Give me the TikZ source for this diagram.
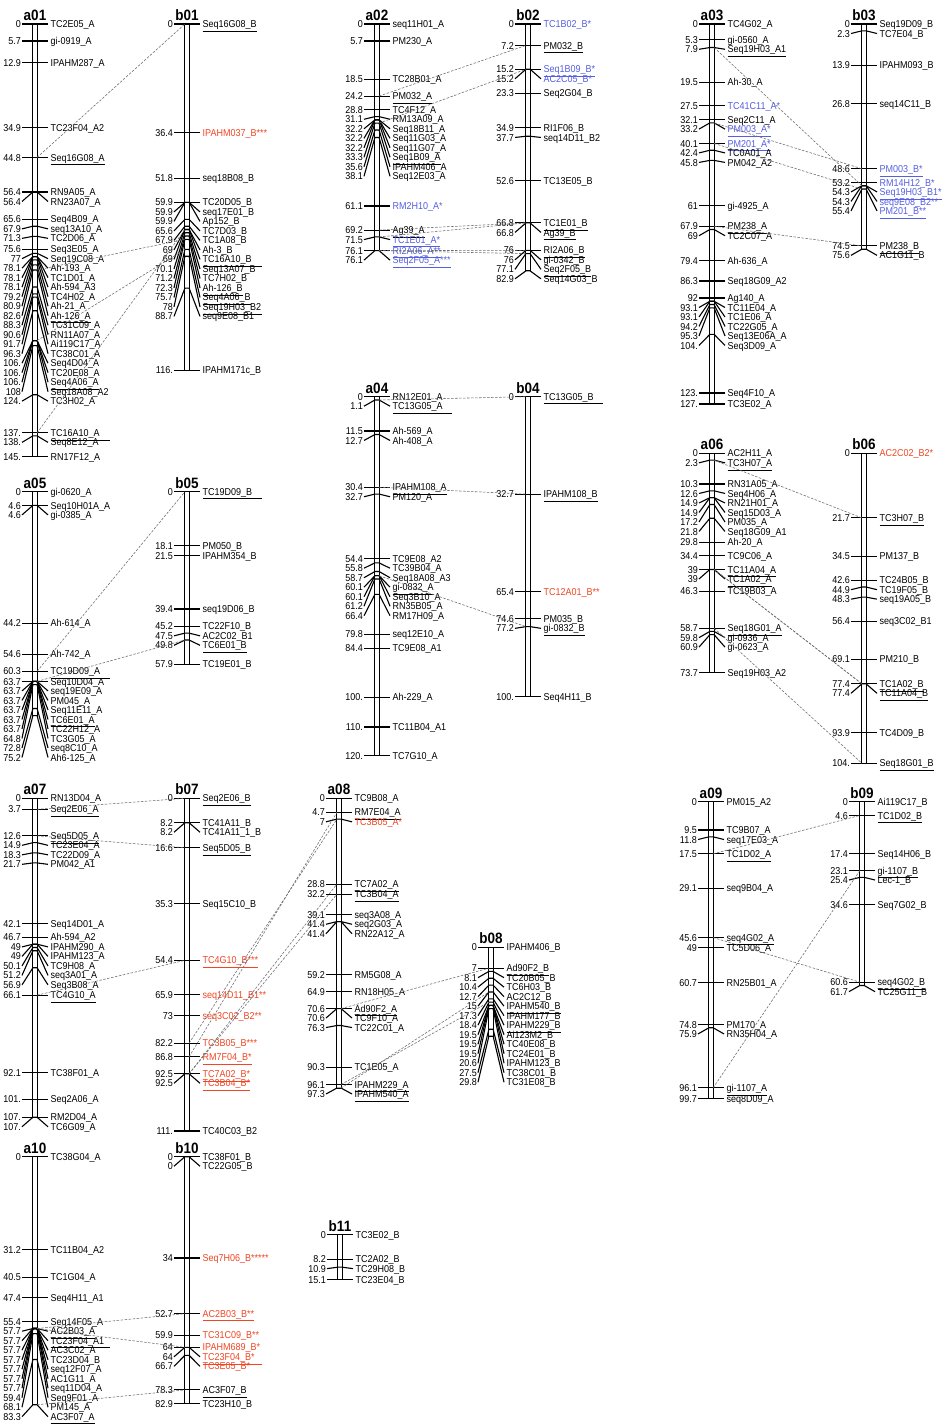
\documentclass[tikz,border=0pt]{standalone}
\usepackage{fontspec}
\setmainfont{Liberation Sans}[FakeStretch=0.9]
\definecolor{mkred}{RGB}{240,70,35}
\definecolor{mkblue}{RGB}{85,95,225}
\definecolor{conngray}{RGB}{105,105,105}
\def\cmsc{2.978}
\expandafter\def\csname mksn\endcsname#1{#1}
\expandafter\def\csname mksu\endcsname#1{\underline{#1}}
\expandafter\def\csname mksU\endcsname#1{\underline{\makebox[59pt][l]{#1}}}
\expandafter\def\csname mksr\endcsname#1{\textcolor{mkred}{#1}}
\expandafter\def\csname mksru\endcsname#1{\textcolor{mkred}{\underline{#1}}}
\expandafter\def\csname mksrU\endcsname#1{\textcolor{mkred}{\underline{\makebox[59pt][l]{#1}}}}
\expandafter\def\csname mksb\endcsname#1{\textcolor{mkblue}{#1}}
\expandafter\def\csname mksbu\endcsname#1{\textcolor{mkblue}{\underline{#1}}}
\newcommand\mkname[2]{\csname mks#1\endcsname{#2}}
\tikzset{
  tickline/.style={line width=1.1pt, black},
  barline/.style={line width=1.1pt, black, fill=white},
  conn/.style={conngray, line width=0.55pt, dash pattern=on 2.5pt off 1.5pt},
  numlab/.style={anchor=base east, inner sep=0pt, font=\fontsize{10}{10}\selectfont},
  namelab/.style={anchor=base west, inner sep=0pt, font=\fontsize{10}{10}\selectfont},
  chromtitle/.style={anchor=base, inner sep=0pt, font=\fontsize{15}{15}\selectfont\bfseries},
}
% #1 name, #2 centre x, #3 y of 0 cM, #4 length cM, #5 markers pos/disp/name/style/key
\newcommand\chromo[5]{%
  \draw[barline] (#2-2.1,#3) rectangle (#2+2.1,#3+#4*\cmsc);
  \node[chromtitle] (t#1) at (#2,#3-3.5) {#1};
  \gdef\mlasty{-1000}%
  \foreach \mpos/\mdisp/\mname/\mst/\mkey in {#5} {
    \pgfmathsetmacro\may{#3+\mpos*\cmsc}
    \pgfmathsetmacro\mly{max(\may,\mlasty+9.5)}
    \xdef\mlasty{\mly}
    \draw[tickline] (#2-13,\mly) -- (#2-2.1,\may) -- (#2+2.1,\may) -- (#2+13,\mly);
    \node[numlab] (#1-\mkey-num) at (#2-14,\mly+3.6) {\mdisp};
    \node[namelab] (#1-\mkey-txt) at (#2+15.5,\mly+3.6) {\mkname{\mst}{\mname}};
    \coordinate (#1-\mkey-L) at (#2-2.1,\may);
    \coordinate (#1-\mkey-R) at (#2+2.1,\may);
  }
}
\begin{document}
\begin{tikzpicture}[x=1pt,y=-1pt]
\fill[white] (0,0) rectangle (944,1425);
\useasboundingbox (0,0) rectangle (944,1425);

\chromo{a01}{35}{24}{145.3}{0/0/TC2E05\_A/n/x,
5.7/5.7/gi-0919\_A/n/x,
12.9/12.9/IPAHM287\_A/n/x,
34.9/34.9/TC23F04\_A2/n/x,
44.8/44.8/Seq16G08\_A/u/s16,
56.4/56.4/RN9A05\_A/n/x,
56.4/56.4/RN23A07\_A/n/x,
65.6/65.6/Seq4B09\_A/n/x,
67.9/67.9/seq13A10\_A/n/x,
71.3/71.3/TC2D06\_A/n/x,
75.6/75.6/Seq3E05\_A/n/x,
77/77/Seq19C08\_A/n/x,
78.1/78.1/Ah-193\_A/n/x,
78.1/78.1/TC1D01\_A/n/x,
78.1/78.1/Ah-594\_A3/n/x,
79.2/79.2/TC4H02\_A/n/x,
80.9/80.9/Ah-21\_A/n/x,
82.6/82.6/Ah-126\_A/u/ah126,
88.3/88.3/TC31C09\_A/n/x,
90.6/90.6/RN11A07\_A/n/x,
91.7/91.7/Ai119C17\_A/n/x,
96.3/96.3/TC38C01\_A/n/x,
106.3/106./Seq4D04\_A/n/x,
106.3/106./TC20E08\_A/n/x,
106.3/106./Seq4A06\_A/u/s4a06,
108/108/Seq18A08\_A2/n/x,
124.5/124./TC3H02\_A/n/x,
137.3/137./TC16A10\_A/U/tc16,
138.3/138./Seq8E12\_A/n/x,
145.3/145./RN17F12\_A/n/x}

\chromo{b01}{187}{24}{116.2}{0/0/Seq16G08\_B/u/s16,
36.4/36.4/IPAHM037\_B***/r/x,
51.8/51.8/seq18B08\_B/n/x,
59.9/59.9/TC20D05\_B/n/x,
59.9/59.9/seq17E01\_B/n/x,
59.9/59.9/Ap152\_B/n/x,
65.6/65.6/TC7D03\_B/n/x,
67.9/67.9/TC1A08\_B/n/x,
69/69/Ah-3\_B/n/x,
69/69/TC16A10\_B/U/tc16,
70.1/70.1/Seq13A07\_B/n/x,
71.2/71.2/TC7H02\_B/n/x,
72.3/72.3/Ah-126\_B/u/ah126,
75.7/75.7/Seq4A06\_B/u/s4a06,
78/78/Seq19H03\_B2/U/x,
88.7/88.7/seq9E08\_B1/n/x,
116.2/116./IPAHM171c\_B/n/x}

\chromo{a02}{377}{24}{76.1}{0/0/seq11H01\_A/n/x,
5.7/5.7/PM230\_A/n/x,
18.5/18.5/TC28B01\_A/n/x,
24.2/24.2/PM032\_A/u/pm032,
28.8/28.8/TC4F12\_A/n/x,
31.1/31.1/RM13A09\_A/n/x,
32.2/32.2/Seq18B11\_A/n/x,
32.2/32.2/Seq11G03\_A/n/x,
32.2/32.2/Seq11G07\_A/n/x,
33.3/33.3/Seq1B09\_A/u/s1b09,
35.6/35.6/IPAHM406\_A/n/x,
38.1/38.1/Seq12E03\_A/n/x,
61.1/61.1/RM2H10\_A*/b/x,
69.2/69.2/Ag39\_A/u/ag39,
71.5/71.5/TC1E01\_A*/bu/tc1e01,
76.1/76.1/RI2A06\_A**/bu/ri2a06,
76.1/76.1/Seq2F05\_A***/bu/s2f05}

\chromo{b02}{528}{24}{82.9}{0/0/TC1B02\_B*/b/x,
7.2/7.2/PM032\_B/u/pm032,
15.2/15.2/Seq1B09\_B*/bu/s1b09,
15.2/15.2/AC2C05\_B*/b/x,
23.3/23.3/Seq2G04\_B/n/x,
34.9/34.9/RI1F06\_B/n/x,
37.7/37.7/seq14D11\_B2/n/x,
52.6/52.6/TC13E05\_B/n/x,
66.8/66.8/TC1E01\_B/u/tc1e01,
66.8/66.8/Ag39\_B/u/ag39,
76/76/RI2A06\_B/u/ri2a06,
76/76/gi-0342\_B/n/x,
77.1/77.1/Seq2F05\_B/u/s2f05,
82.9/82.9/Seq14G03\_B/n/x}

\chromo{a03}{712}{24}{127.6}{0/0/TC4G02\_A/n/x,
5.3/5.3/gi-0560\_A/n/x,
7.9/7.9/Seq19H03\_A1/u/s19h03,
19.5/19.5/Ah-30\_A/n/x,
27.5/27.5/TC41C11\_A*/b/x,
32.1/32.1/Seq2C11\_A/n/x,
33.2/33.2/PM003\_A*/bu/pm003,
40.1/40.1/PM201\_A*/bu/pm201,
42.4/42.4/TC0A01\_A/n/x,
45.8/45.8/PM042\_A2/n/x,
61/61/gi-4925\_A/n/x,
67.9/67.9/PM238\_A/u/pm238,
69/69/TC2C07\_A/n/x,
79.4/79.4/Ah-636\_A/n/x,
86.3/86.3/Seq18G09\_A2/n/x,
92/92/Ag140\_A/n/x,
93.1/93.1/TC11E04\_A/n/x,
93.1/93.1/TC1E06\_A/n/x,
94.2/94.2/TC22G05\_A/n/x,
95.3/95.3/Seq13E06A\_A/n/x,
104.2/104./Seq3D09\_A/n/x,
123.9/123./Seq4F10\_A/n/x,
127.6/127./TC3E02\_A/n/x}

\chromo{b03}{864}{24}{75.6}{0/0/Seq19D09\_B/n/x,
2.3/2.3/TC7E04\_B/n/x,
13.9/13.9/IPAHM093\_B/n/x,
26.8/26.8/seq14C11\_B/n/x,
48.6/48.6/PM003\_B*/bu/pm003,
53.2/53.2/RM14H12\_B*/b/x,
54.3/54.3/Seq19H03\_B1*/bu/s19h03,
54.3/54.3/seq9E08\_B2**/b/x,
55.4/55.4/PM201\_B**/bu/pm201,
74.5/74.5/PM238\_B/u/pm238,
75.6/75.6/AC1G11\_B/n/x}

\chromo{a04}{377}{396.7}{120.6}{0/0/RN12E01\_A/n/x,
1.1/1.1/TC13G05\_A/U/tc13,
11.5/11.5/Ah-569\_A/n/x,
12.7/12.7/Ah-408\_A/n/x,
30.4/30.4/IPAHM108\_A/u/ip108,
32.7/32.7/PM120\_A/n/x,
54.4/54.4/TC9E08\_A2/n/x,
55.8/55.8/TC39B04\_A/n/x,
58.7/58.7/Seq18A08\_A3/n/x,
60.1/60.1/gi-0832\_A/u/gi0832,
60.1/60.1/Seq3B10\_A/n/x,
61.2/61.2/RN35B05\_A/n/x,
66.4/66.4/RM17H09\_A/n/x,
79.8/79.8/seq12E10\_A/n/x,
84.4/84.4/TC9E08\_A1/n/x,
100.9/100./Ah-229\_A/n/x,
110.9/110./TC11B04\_A1/n/x,
120.6/120./TC7G10\_A/n/x}

\chromo{b04}{528}{396.7}{100.7}{0/0/TC13G05\_B/U/tc13,
32.7/32.7/IPAHM108\_B/u/ip108,
65.4/65.4/TC12A01\_B**/r/x,
74.6/74.6/PM035\_B/n/x,
77.2/77.2/gi-0832\_B/u/gi0832,
100.7/100./Seq4H11\_B/n/x}

\chromo{a05}{35}{491.7}{75.2}{0/0/gi-0620\_A/n/x,
4.6/4.6/Seq10H01A\_A/n/x,
4.6/4.6/gi-0385\_A/n/x,
44.2/44.2/Ah-614\_A/n/x,
54.6/54.6/Ah-742\_A/n/x,
60.3/60.3/TC19D09\_A/U/tc19,
63.7/63.7/Seq10D04\_A/n/x,
63.7/63.7/seq19E09\_A/n/x,
63.7/63.7/PM045\_A/n/x,
63.7/63.7/Seq11E11\_A/n/x,
63.7/63.7/TC6E01\_A/u/tc6e01,
63.7/63.7/TC22H12\_A/n/x,
64.8/64.8/TC3G05\_A/n/x,
72.8/72.8/seq8C10\_A/n/x,
75.2/75.2/Ah6-125\_A/n/x}

\chromo{b05}{187}{491.7}{57.9}{0/0/TC19D09\_B/U/tc19,
18.1/18.1/PM050\_B/n/x,
21.5/21.5/IPAHM354\_B/n/x,
39.4/39.4/seq19D06\_B/n/x,
45.2/45.2/TC22F10\_B/n/x,
47.5/47.5/AC2C02\_B1/n/x,
49.8/49.8/TC6E01\_B/u/tc6e01,
57.9/57.9/TC19E01\_B/n/x}

\chromo{a06}{712}{453.3}{73.7}{0/0/AC2H11\_A/n/x,
2.3/2.3/TC3H07\_A/u/tc3h07,
10.3/10.3/RN31A05\_A/n/x,
12.6/12.6/Seq4H06\_A/n/x,
14.9/14.9/RN21H01\_A/n/x,
14.9/14.9/Seq15D03\_A/n/x,
17.2/17.2/PM035\_A/n/x,
21.8/21.8/Seq18G09\_A1/n/x,
29.8/29.8/Ah-20\_A/n/x,
34.4/34.4/TC9C06\_A/n/x,
39/39/TC11A04\_A/u/tc11a04,
39/39/TC1A02\_A/u/tc1a02,
46.3/46.3/TC19B03\_A/n/x,
58.7/58.7/Seq18G01\_A/u/s18g01,
59.8/59.8/gi-0936\_A/n/x,
60.9/60.9/gi-0623\_A/n/x,
73.7/73.7/Seq19H03\_A2/n/x}

\chromo{b06}{864}{453.3}{104.1}{0/0/AC2C02\_B2*/r/x,
21.7/21.7/TC3H07\_B/u/tc3h07,
34.5/34.5/PM137\_B/n/x,
42.6/42.6/TC24B05\_B/n/x,
44.9/44.9/TC19F05\_B/n/x,
48.3/48.3/seq19A05\_B/n/x,
56.4/56.4/seq3C02\_B1/n/x,
69.1/69.1/PM210\_B/n/x,
77.4/77.4/TC1A02\_B/u/tc1a02,
77.4/77.4/TC11A04\_B/u/tc11a04,
93.9/93.9/TC4D09\_B/n/x,
104.1/104./Seq18G01\_B/u/s18g01}

\chromo{a07}{35}{798.3}{107.1}{0/0/RN13D04\_A/n/x,
3.7/3.7/Seq2E06\_A/u/s2e06,
12.6/12.6/Seq5D05\_A/u/s5d05,
14.9/14.9/TC23E04\_A/n/x,
18.3/18.3/TC22D09\_A/n/x,
21.7/21.7/PM042\_A1/n/x,
42.1/42.1/Seq14D01\_A/n/x,
46.7/46.7/Ah-594\_A2/n/x,
49/49/IPAHM290\_A/n/x,
49/49/IPAHM123\_A/n/x,
50.1/50.1/TC9H08\_A/n/x,
51.2/51.2/seq3A01\_A/n/x,
56.9/56.9/Seq3B08\_A/n/x,
66.1/66.1/TC4G10\_A/u/tc4g10,
92.1/92.1/TC38F01\_A/n/x,
101/101./Seq2A06\_A/n/x,
107.1/107./RM2D04\_A/n/x,
107.1/107./TC6G09\_A/n/x}

\chromo{b07}{187}{798.3}{111.7}{0/0/Seq2E06\_B/u/s2e06,
8.2/8.2/TC41A11\_B/n/x,
8.2/8.2/TC41A11\_1\_B/n/x,
16.6/16.6/Seq5D05\_B/u/s5d05,
35.3/35.3/Seq15C10\_B/n/x,
54.4/54.4/TC4G10\_B***/ru/tc4g10,
65.9/65.9/seq14D11\_B1**/r/x,
73/73/seq3C02\_B2**/r/x,
82.2/82.2/TC3B05\_B***/r/tc3b05,
86.8/86.8/RM7F04\_B*/ru/rm7,
92.5/92.5/TC7A02\_B*/ru/tc7a02,
92.5/92.5/TC3B04\_B*/ru/tc3b04,
111.7/111./TC40C03\_B2/n/x}

\chromo{a08}{339}{798.3}{97.3}{0/0/TC9B08\_A/n/x,
4.7/4.7/RM7E04\_A/u/rm7,
7/7/TC3B05\_A*/r/tc3b05,
28.8/28.8/TC7A02\_A/u/tc7a02,
32.2/32.2/TC3B04\_A/u/tc3b04,
39.1/39.1/seq3A08\_A/n/x,
41.4/41.4/seq2G03\_A/n/x,
41.4/41.4/RN22A12\_A/n/x,
59.2/59.2/RM5G08\_A/n/x,
64.9/64.9/RN18H05\_A/n/x,
70.6/70.6/Ad90F2\_A/u/ad90,
70.6/70.6/TC9F10\_A/n/x,
76.3/76.3/TC22C01\_A/n/x,
90.3/90.3/TC1E05\_A/n/x,
96.1/96.1/IPAHM229\_A/u/ip229,
97.3/97.3/IPAHM540\_A/u/ip540}

\chromo{b08}{491}{947.3}{29.8}{0/0/IPAHM406\_B/n/x,
7/7/Ad90F2\_B/u/ad90,
8.1/8.1/TC20B05\_B/n/x,
10.4/10.4/TC6H03\_B/n/x,
12.7/12.7/AC2C12\_B/n/x,
15/15/IPAHM540\_B/u/ip540,
17.3/17.3/IPAHM177\_B/n/x,
18.4/18.4/IPAHM229\_B/u/ip229,
19.5/19.5/Ai123M2\_B/n/x,
19.5/19.5/TC40E08\_B/n/x,
19.5/19.5/TC24E01\_B/n/x,
20.6/20.6/IPAHM123\_B/n/x,
27.5/27.5/TC38C01\_B/n/x,
29.8/29.8/TC31E08\_B/n/x}

\chromo{a09}{711}{801.7}{99.7}{0/0/PM015\_A2/n/x,
9.5/9.5/TC9B07\_A/n/x,
11.8/11.8/seq17E03\_A/n/x,
17.5/17.5/TC1D02\_A/u/tc1d02,
29.1/29.1/seq9B04\_A/n/x,
45.6/45.6/seq4G02\_A/u/s4g02,
49/49/TC5D06\_A/n/x,
60.7/60.7/RN25B01\_A/n/x,
74.8/74.8/PM170\_A/n/x,
75.9/75.9/RN35H04\_A/n/x,
96.1/96.1/gi-1107\_A/u/gi1107,
99.7/99.7/seq8D09\_A/n/x}

\chromo{b09}{862}{801.7}{61.7}{0/0/Ai119C17\_B/n/x,
4.6/4.6/TC1D02\_B/u/tc1d02,
17.4/17.4/Seq14H06\_B/n/x,
23.1/23.1/gi-1107\_B/u/gi1107,
25.4/25.4/Lec-1\_B/n/x,
34.6/34.6/Seq7G02\_B/n/x,
60.6/60.6/seq4G02\_B/u/s4g02,
61.7/61.7/TC25G11\_B/n/x}

\chromo{a10}{35}{1156.7}{83.3}{0/0/TC38G04\_A/n/x,
31.2/31.2/TC11B04\_A2/n/x,
40.5/40.5/TC1G04\_A/n/x,
47.4/47.4/Seq4H11\_A1/n/x,
55.4/55.4/Seq14F05\_A/n/x,
57.7/57.7/AC2B03\_A/u/ac2b03,
57.7/57.7/TC23F04\_A1/U/tc23f04,
57.7/57.7/AC3C02\_A/n/x,
57.7/57.7/TC23D04\_B/n/x,
57.7/57.7/seq12F07\_A/n/x,
57.7/57.7/AC1G11\_A/n/x,
57.7/57.7/seq11D04\_A/n/x,
59.4/59.4/Seq9F01\_A/n/x,
68.1/68.1/PM145\_A/n/x,
83.3/83.3/AC3F07\_A/u/ac3f07}

\chromo{b10}{187}{1156.7}{82.9}{0/0/TC38F01\_B/n/x,
0/0/TC22G05\_B/n/x,
34/34/Seq7H06\_B*****/r/x,
52.7/52.7/AC2B03\_B**/ru/ac2b03,
59.9/59.9/TC31C09\_B**/r/x,
64/64/IPAHM689\_B*/r/x,
64/64/TC23F04\_B*/rU/tc23f04,
66.7/66.7/TC3E05\_B*/r/x,
78.3/78.3/AC3F07\_B/u/ac3f07,
82.9/82.9/TC23H10\_B/n/x}

\chromo{b11}{340}{1234.7}{15.1}{0/0/TC3E02\_B/n/x,
8.2/8.2/TC2A02\_B/n/x,
10.9/10.9/TC29H08\_B/n/x,
15.1/15.1/TC23E04\_B/n/x}

% connectors
\foreach \k in {s16,ah126,s4a06,tc16} \draw[conn] (a01-\k-R) -- (b01-\k-L);
\foreach \k in {pm032,s1b09,ag39,tc1e01,ri2a06,s2f05} \draw[conn] (a02-\k-R) -- (b02-\k-L);
\foreach \k in {s19h03,pm003,pm201,pm238} \draw[conn] (a03-\k-R) -- (b03-\k-L);
\foreach \k in {tc13,ip108,gi0832} \draw[conn] (a04-\k-R) -- (b04-\k-L);
\foreach \k in {tc19,tc6e01} \draw[conn] (a05-\k-R) -- (b05-\k-L);
\foreach \k in {tc3h07,tc11a04,tc1a02,s18g01} \draw[conn] (a06-\k-R) -- (b06-\k-L);
\foreach \k in {s2e06,s5d05,tc4g10} \draw[conn] (a07-\k-R) -- (b07-\k-L);
\foreach \k in {tc3b05,rm7,tc7a02,tc3b04} \draw[conn] (b07-\k-R) -- (a08-\k-L);
\foreach \k in {ad90,ip229,ip540} \draw[conn] (a08-\k-R) -- (b08-\k-L);
\foreach \k in {tc1d02,s4g02,gi1107} \draw[conn] (a09-\k-R) -- (b09-\k-L);
\foreach \k in {ac2b03,tc23f04,ac3f07} \draw[conn] (a10-\k-R) -- (b10-\k-L);
\end{tikzpicture}
\end{document}
